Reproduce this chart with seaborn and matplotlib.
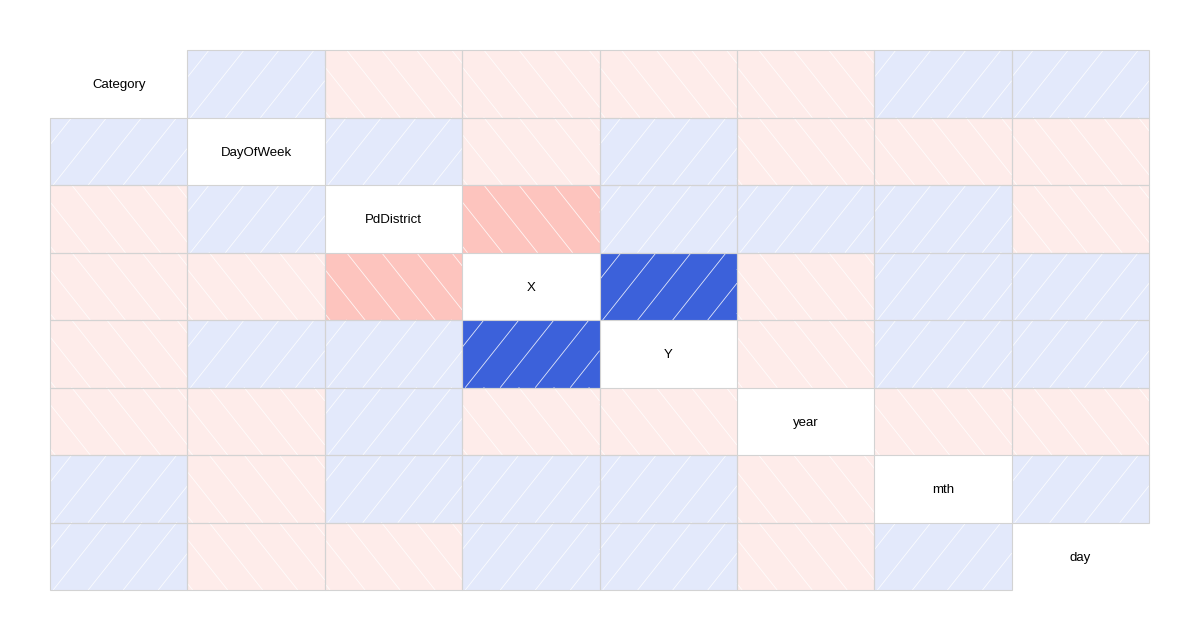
import numpy as np
import matplotlib
matplotlib.use("Agg")
import matplotlib.pyplot as plt
from matplotlib.patches import Rectangle
import seaborn as sns
import pandas as pd
from matplotlib.colors import LinearSegmentedColormap, ListedColormap

# variables shown on the diagonal
variables = ["Category", "DayOfWeek", "PdDistrict", "X", "Y", "year", "mth", "day"]

# correlation matrix
corr_rows = [
    [1.00, 0.01, -0.02, -0.01, -0.01, -0.02, 0.01, 0.01],
    [0.01, 1.00, 0.01, -0.01, 0.01, -0.01, -0.01, -0.01],
    [-0.02, 0.01, 1.00, -0.25, 0.04, 0.01, 0.01, -0.01],
    [-0.01, -0.01, -0.25, 1.00, 0.50, -0.01, 0.01, 0.01],
    [-0.01, 0.01, 0.04, 0.50, 1.00, -0.01, 0.01, 0.01],
    [-0.02, -0.01, 0.01, -0.01, -0.01, 1.00, -0.01, -0.01],
    [0.01, -0.01, 0.01, 0.01, 0.01, -0.01, 1.00, 0.01],
    [0.01, -0.01, -0.01, 0.01, 0.01, -0.01, 0.01, 1.00],
]

corr = pd.DataFrame(corr_rows, index=variables, columns=variables)

# corrgram-style palette: 14 colours from red to navy
ramp = LinearSegmentedColormap.from_list("ramp", ["red", "salmon", "white", "royalblue", "navy"])
cmap = ListedColormap([ramp(v) for v in np.linspace(0, 1, 14)])

mask = np.eye(len(variables), dtype=bool)

sns.set_style("white")
plt.rcParams["font.family"] = ["Liberation Sans", "DejaVu Sans"]

fig = plt.figure(figsize=(12, 6.41), dpi=100)
ax = fig.add_axes([50 / 1200, 1 - 590 / 641, 1099 / 1200, 540 / 641])

sns.heatmap(corr, mask=mask, cmap=cmap, vmin=-1, vmax=1, cbar=False,
            linewidths=0, ax=ax)


# white shading lines, "/" for positive and "\" for negative
def shade_lines(ax, i, j, r):
    sign = -1 if r > 0 else 1
    run = 0.39
    ts = np.linspace(0, 1, 200)
    for k in range(-3, 6):
        xt = 0.158 + k * 0.255
        xs = xt + sign * run * ts
        keep = (xs >= 0) & (xs <= 1)
        if keep.sum() < 2:
            continue
        ax.plot(j + xs[keep], i + ts[keep], color="white", lw=0.6, alpha=0.85, zorder=3)


for i in range(len(variables)):
    for j in range(len(variables)):
        if i == j:
            ax.text(j + 0.5, i + 0.5, variables[i], ha="center", va="center_baseline",
                    fontsize=9.5, color="black")
        else:
            shade_lines(ax, i, j, corr.iloc[i, j])
            ax.add_patch(Rectangle((j, i), 1, 1, fill=False, edgecolor="#d3d3d3",
                                   lw=0.8, zorder=4, clip_on=False))

ax.set_xlim(0, len(variables))
ax.set_ylim(len(variables), 0)
ax.set_xticks([])
ax.set_yticks([])
ax.set_xlabel("")
ax.set_ylabel("")
for s in ax.spines.values():
    s.set_visible(False)

fig.savefig("out.png", dpi=100)
